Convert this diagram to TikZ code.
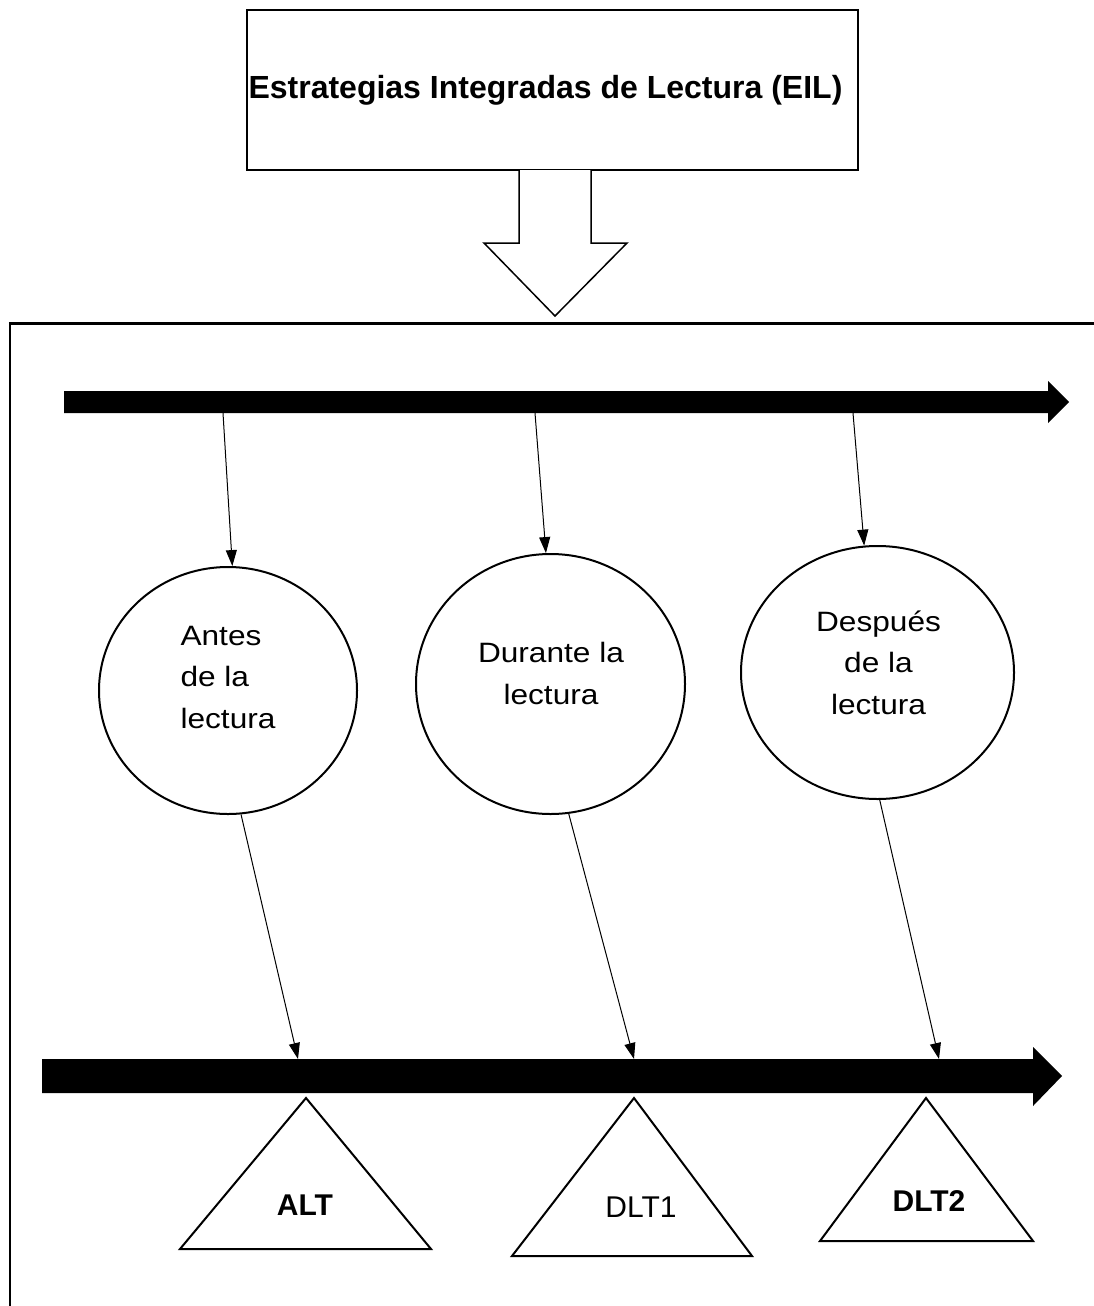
\documentclass[tikz,border=0pt]{standalone}
\usepackage{fontspec}
\setmainfont{Liberation Sans}
\usetikzlibrary{arrows.meta,shapes.geometric}
% phase labels are set slightly wider than the font's natural width
\newcommand{\wideline}[1]{\scalebox{1.13}[1]{#1}}
\begin{document}
\begin{tikzpicture}[x=1pt,y=-1pt,
  boxline/.style={line width=2pt},
  phase/.style={draw,ellipse,line width=2pt,inner sep=0pt},
  phasetext/.style={font=\fontsize{28}{41.5}\selectfont,inner sep=0pt},
  link/.style={line width=1pt,-{Triangle[length=16pt,width=11pt]}},
  milestone/.style={draw,line width=2pt,line join=miter},
  tag/.style={font=\fontsize{30}{36}\selectfont,inner sep=0pt,anchor=base}]

\path[use as bounding box] (0,0) rectangle (1094,1306);
\clip (0,0) rectangle (1094,1306);

% title box (title set a little left of the box centre)
\node[draw,boxline,minimum width=611pt,minimum height=160pt,inner sep=0pt,
      font=\bfseries\fontsize{32}{38}\selectfont] (eil) at (552.5,90)
      {\hspace*{-14pt}Estrategias Integradas de Lectura (EIL)};

% hollow block arrow below the title
\draw[line width=1.5pt,line join=miter,fill=white]
  (519,170) -- (519,243) -- (484,243) -- (555,316) -- (627,243) -- (591,243) -- (591,170);

% surrounding frame (runs off the page to the right and bottom)
\draw[line width=2.5pt] (10,1330) -- (10,323);
\draw[line width=3pt] (8.75,323) -- (1120,323);

% upper and lower timelines
\fill (64,391) -- (1048,391) -- (1048,381) -- (1069,402) -- (1048,423) -- (1048,413) -- (64,413) -- cycle;
\fill (42,1059) -- (1033,1059) -- (1033,1047) -- (1062,1076) -- (1033,1106) -- (1033,1093) -- (42,1093) -- cycle;

% reading phases
\node[phase,minimum width=258pt,minimum height=247pt] (c1) at (228,690.5) {};
\node[phase,minimum width=269pt,minimum height=260pt] (c2) at (550.5,684) {};
\node[phase,minimum width=273pt,minimum height=253pt] (c3) at (877.5,672.5) {};

\node[phasetext,align=left] (t1) at (228,677)
  {\wideline{Antes}\\\wideline{de la}\\\wideline{lectura}};
\node[phasetext,align=center] (t2) at (551,673.5)
  {\wideline{Durante la}\\\wideline{lectura}};
\node[phasetext,align=center] (t3) at (878.5,662.5)
  {\wideline{Después}\\\wideline{de la}\\\wideline{lectura}};

% points on the timelines
\coordinate (s1) at (223,413);
\coordinate (s2) at (535,413);
\coordinate (s3) at (853,413);
\coordinate (h1) at (298,1059);
\coordinate (h2) at (634,1059);
\coordinate (h3) at (939,1059);

% connectors
\draw[link] (s1) -- (c1.88);
\draw[link] (s2) -- (c2.92);
\draw[link] (s3) -- (c3.96);
\draw[link] (c1.-84) -- (h1);
\draw[link] (c2.-82) -- (h2);
\draw[link] (c3.-89) -- (h3);

% milestones under the lower timeline
\draw[milestone] (306,1098) -- (431,1249) -- (180,1249) -- cycle;
\draw[milestone] (634,1098) -- (752,1256) -- (512,1256) -- cycle;
\draw[milestone] (926,1098) -- (1033,1241) -- (820,1241) -- cycle;

\node[tag,font=\bfseries\fontsize{30}{36}\selectfont] (alt) at (305,1215) {ALT};
\node[tag] (dlt1) at (641,1217) {DLT1};
\node[tag,font=\bfseries\fontsize{30}{36}\selectfont] (dlt2) at (929,1211) {DLT2};
\end{tikzpicture}
\end{document}
